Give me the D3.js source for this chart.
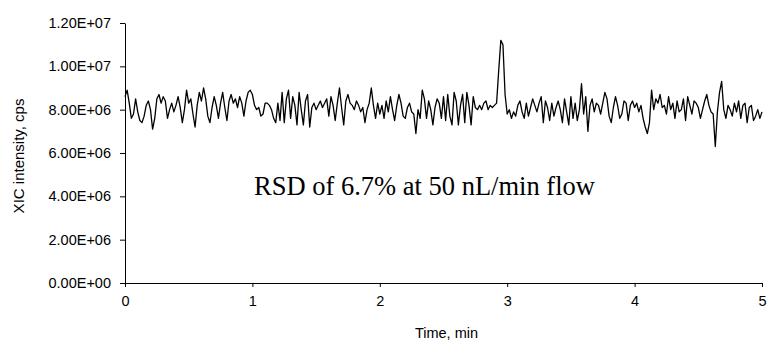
<!DOCTYPE html>
<html><head><meta charset="utf-8">
<script src="https://cdn.jsdelivr.net/npm/d3@7"></script>
<style>body{margin:0;background:#fff}svg{display:block}</style>
</head><body><div id="chart"></div>
<script>
// Time axis: one reading per second (1/60 min), 0 to 5 min
const timeStepMin = 1 / 60;
// XIC intensity in units of 1e6 cps
const intensityE6 = [
  8.6, 8.9, 8.3, 7.6, 7.8, 8.5, 7.9, 7.5, 7.4, 7.7, 8.2, 8.4, 8.0, 7.1, 7.6, 8.5, 8.7, 8.3, 8.6, 8.4,
  7.6, 8.0, 8.3, 7.9, 8.2, 8.6, 8.1, 7.4, 8.0, 8.9, 8.3, 8.5, 7.8, 7.2, 8.2, 8.8, 8.4, 9.0, 8.5, 7.7,
  7.4, 8.1, 8.6, 8.2, 7.6, 8.3, 8.8, 8.1, 7.5, 8.4, 8.7, 8.3, 8.5, 8.1, 8.6, 8.3, 7.7, 8.4, 8.8, 8.9,
  8.7, 8.2, 8.0, 8.1, 7.7, 7.8, 8.3, 8.3, 8.2, 8.0, 7.6, 7.4, 8.3, 7.5, 8.8, 7.4, 8.5, 8.9, 7.6, 8.6,
  8.2, 7.3, 8.8, 8.0, 7.3, 8.4, 8.7, 7.2, 8.1, 8.3, 8.0, 8.2, 8.4, 8.1, 8.3, 8.5, 7.7, 8.6, 8.2, 7.5,
  8.3, 9.0, 8.1, 7.3, 8.4, 8.7, 8.3, 8.2, 8.0, 8.4, 8.2, 7.9, 8.1, 7.4, 8.0, 8.3, 9.0, 8.2, 7.6, 8.3,
  7.8, 8.2, 7.6, 8.4, 7.9, 8.6, 8.0, 7.5, 8.2, 8.7, 8.3, 7.7, 7.6, 8.1, 8.3, 7.9, 7.8, 6.9, 8.0, 7.6,
  8.9, 8.5, 7.6, 8.4, 8.0, 7.3, 8.1, 8.5, 8.3, 7.6, 8.6, 7.5, 8.7, 7.7, 7.3, 8.8, 8.4, 7.3, 8.2, 8.7,
  7.4, 8.8, 8.2, 7.3, 8.6, 8.1, 8.0, 8.2, 8.0, 8.3, 8.4, 8.0, 8.2, 8.1, 8.2, 8.3, 9.8, 11.2, 11.0, 8.7,
  7.8, 8.0, 7.6, 7.9, 7.7, 8.2, 8.4, 7.9, 7.6, 8.3, 7.7, 8.1, 8.5, 8.2, 7.9, 8.3, 8.6, 7.4, 8.4, 8.1,
  7.5, 8.3, 7.7, 8.1, 8.4, 8.0, 7.4, 8.5, 7.9, 7.3, 8.6, 7.6, 8.3, 7.5, 8.0, 9.2, 7.8, 8.6, 7.0, 8.2,
  8.5, 7.9, 8.3, 8.2, 7.8, 8.3, 8.8, 8.5, 7.7, 7.4, 8.1, 8.6, 8.2, 7.6, 7.8, 8.4, 8.3, 7.5, 8.2, 8.4,
  8.1, 8.3, 7.9, 8.2, 7.6, 7.2, 6.9, 7.4, 8.9, 8.0, 8.5, 8.3, 8.7, 8.1, 8.2, 7.8, 8.6, 8.0, 8.3, 7.6,
  8.4, 7.9, 8.0, 8.5, 7.5, 8.6, 8.2, 7.8, 8.4, 8.3, 8.1, 7.6, 8.0, 8.4, 8.7, 8.2, 7.9, 7.8, 6.3, 7.9,
  8.8, 9.3, 8.0, 7.6, 8.2, 8.0, 7.7, 8.3, 7.9, 8.4, 7.6, 8.2, 8.3, 7.4, 8.1, 8.2, 7.5, 7.7, 8.0, 7.6,
  7.9
];
const xTicks = [0, 1, 2, 3, 4, 5];
const yTicks = [0, 2e6, 4e6, 6e6, 8e6, 1e7, 1.2e7];
const yTickLabels = ["0.00E+00", "2.00E+06", "4.00E+06", "6.00E+06", "8.00E+06", "1.00E+07", "1.20E+07"];
const xTitle = "Time, min";
const yTitle = "XIC intensity, cps";
const annotation = "RSD of 6.7% at 50 nL/min flow";

const W = 767, H = 346;
const m = {left: 125, right: 5, top: 23, bottom: 63};
const svg = d3.select("#chart").append("svg").attr("width", W).attr("height", H);

const x = d3.scaleLinear().domain([0, 5]).range([m.left, W - m.right]);
const y = d3.scaleLinear().domain([0, 1.2e7]).range([H - m.bottom, m.top]);

const data = intensityE6.map((v, i) => ({t: i * timeStepMin, v: v * 1e6}));

const font = "'Liberation Sans', Arial, sans-serif";

// y axis
const yAxis = svg.append("g").attr("transform", `translate(${m.left},0)`)
  .call(d3.axisLeft(y).tickValues(yTicks).tickSize(5).tickSizeOuter(0)
    .tickFormat((d, i) => yTickLabels[i]));
yAxis.selectAll("text").attr("x", -14).style("font-family", font).style("font-size", "14.5px").attr("fill", "#000");

// x axis
const xAxis = svg.append("g").attr("transform", `translate(0,${H - m.bottom})`)
  .call(d3.axisBottom(x).tickValues(xTicks).tickSize(4).tickSizeOuter(0).tickFormat(d3.format("d")));
xAxis.selectAll("text").attr("y", 13).style("font-family", font).style("font-size", "14.5px").attr("fill", "#000");

svg.selectAll(".domain, .tick line").attr("stroke", "#000").attr("stroke-width", 1);

// line
svg.append("path").datum(data)
  .attr("fill", "none").attr("stroke", "#000").attr("stroke-width", 1.3).attr("stroke-linejoin", "round")
  .attr("d", d3.line().x(d => x(d.t)).y(d => y(d.v)));

// titles
svg.append("text").attr("x", (m.left + W - m.right) / 2 + 3).attr("y", 338)
  .attr("text-anchor", "middle").style("font-family", font).style("font-size", "14.5px").text(xTitle);
svg.append("text").attr("transform", `translate(24,${(m.top + H - m.bottom) / 2 + 3}) rotate(-90)`)
  .attr("text-anchor", "middle").style("font-family", font).style("font-size", "15px").text(yTitle);

svg.append("text").attr("x", x(2.5) - 19).attr("y", y(4.2e6) + 3)
  .attr("text-anchor", "middle").style("font-family", "'Liberation Serif', 'Times New Roman', serif")
  .style("font-size", "26.5px").text(annotation);
</script></body></html>
